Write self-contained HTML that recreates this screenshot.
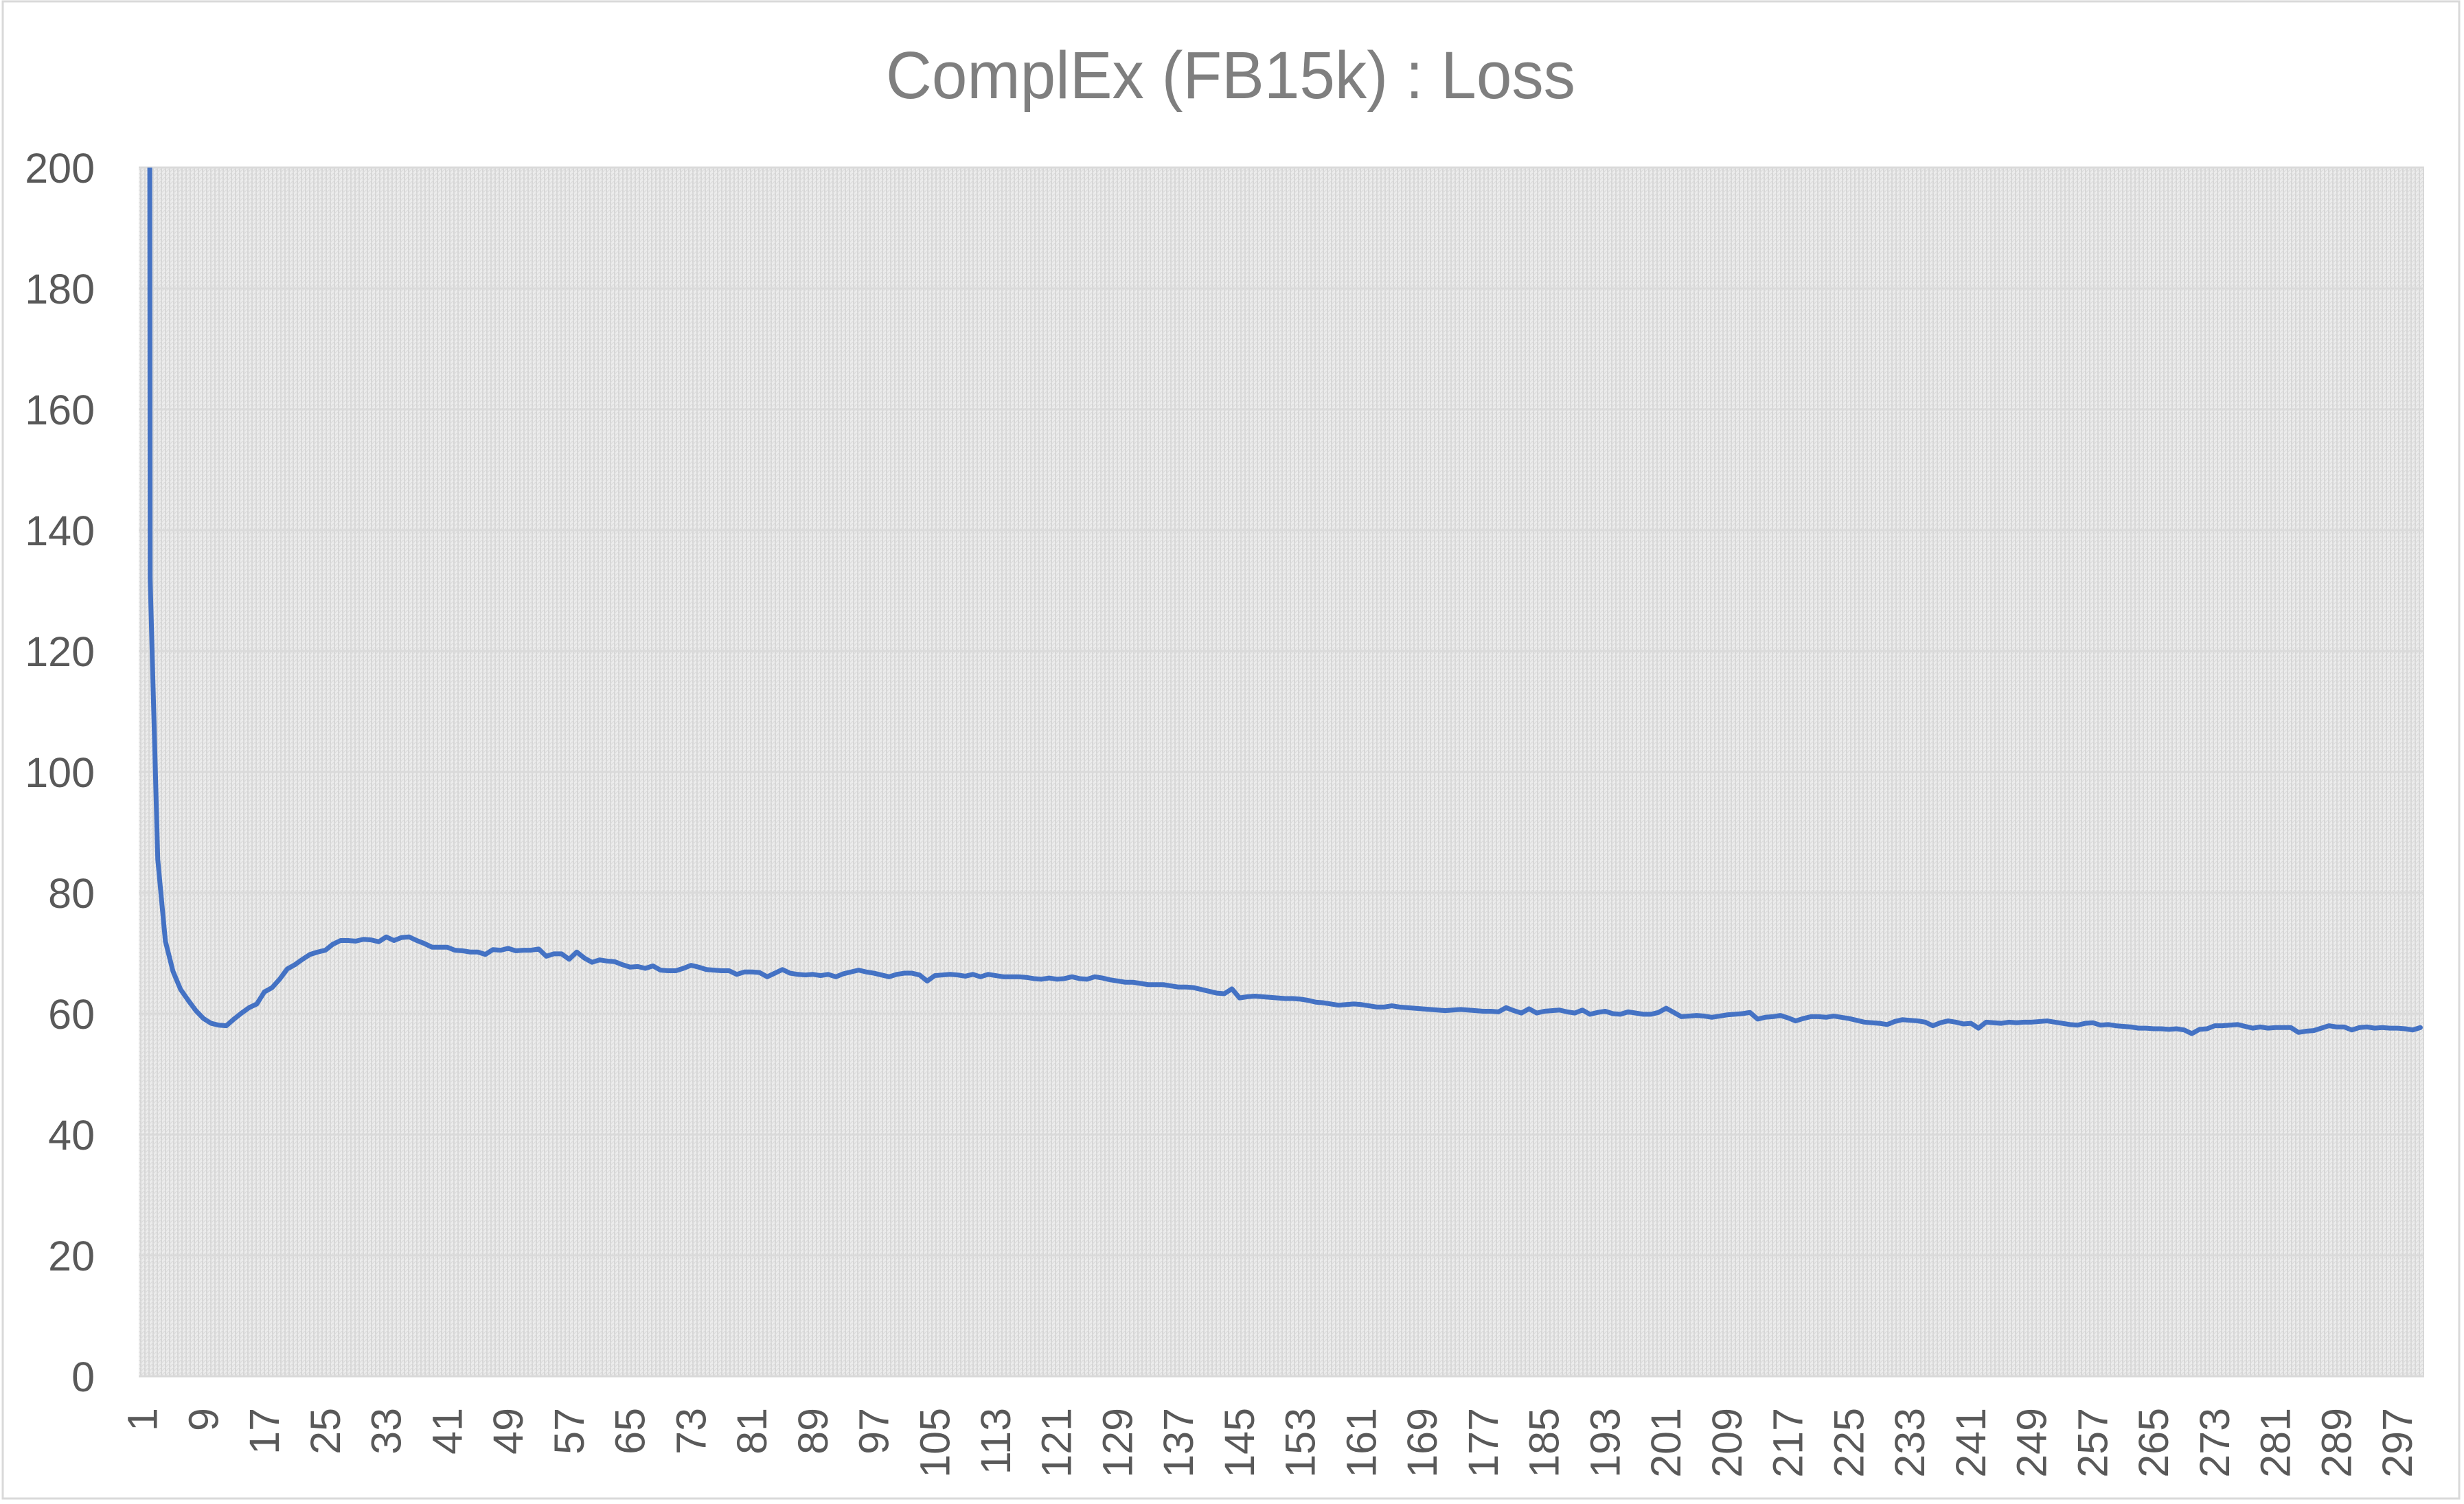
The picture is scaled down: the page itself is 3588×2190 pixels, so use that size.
<!DOCTYPE html>
<html>
<head>
<meta charset="utf-8">
<style>
  html, body { margin: 0; padding: 0; background: #ffffff; }
  svg { display: block; }
  text { font-family: "Liberation Sans", sans-serif; }
</style>
</head>
<body>
<svg id="chart" xmlns="http://www.w3.org/2000/svg" width="3588" height="2190" viewBox="0 0 3588 2190">
  <defs>
    <pattern id="hatch" width="6" height="6" patternUnits="userSpaceOnUse">
      <rect width="6" height="6" fill="#ececec"/>
      <rect x="0" y="0" width="2" height="6" fill="#d6d6d6"/>
      <path d="M0,6 L6,0" stroke="#dcdcdc" stroke-width="1.2"/>
    </pattern>
    <clipPath id="plotClip">
      <rect x="202" y="244" width="3328" height="1760"/>
    </clipPath>
  </defs>
  <rect x="4" y="2" width="3577" height="2180" fill="#ffffff" stroke="#d9d9d9" stroke-width="3"/>
  <text x="1792" y="143" text-anchor="middle" font-size="97" fill="#7f7f7f" textLength="1004" lengthAdjust="spacingAndGlyphs">ComplEx (FB15k) : Loss</text>
  <rect x="202" y="244" width="3328" height="1760" fill="url(#hatch)"/>
  <g id="grid"></g>
  <g id="yaxis"></g>
  <g id="xaxis"></g>
  <g id="series" clip-path="url(#plotClip)"></g>
</svg>
<script>
const yTicks = [0, 20, 40, 60, 80, 100, 120, 140, 160, 180, 200];
const xTickLabels = [1,9,17,25,33,41,49,57,65,73,81,89,97,105,113,121,129,137,145,153,161,169,177,185,193,201,209,217,225,233,241,249,257,265,273,281,289,297];
const lossValues = [
1500,132,85.5,72,67,64,62.2,60.5,59.2,58.4,
58.1,58.0,59.1,60.1,61.0,61.6,63.6,64.3,65.7,67.4,
68.1,69.0,69.8,70.2,70.5,71.5,72.1,72.1,72.0,72.3,
72.2,71.9,72.7,72.1,72.6,72.7,72.1,71.6,71.0,71.0,
71.0,70.5,70.4,70.2,70.2,69.8,70.6,70.5,70.8,70.4,
70.5,70.5,70.7,69.5,69.9,69.9,69.0,70.2,69.2,68.5,
68.9,68.7,68.6,68.1,67.7,67.8,67.5,67.9,67.2,67.1,
67.1,67.5,68.0,67.7,67.3,67.2,67.1,67.1,66.5,66.9,
66.9,66.8,66.1,66.7,67.3,66.7,66.5,66.4,66.5,66.3,
66.5,66.1,66.6,66.9,67.2,66.9,66.7,66.4,66.1,66.5,
66.7,66.7,66.4,65.4,66.3,66.4,66.5,66.4,66.2,66.5,
66.1,66.5,66.3,66.1,66.1,66.1,66.0,65.8,65.7,65.9,
65.7,65.8,66.1,65.8,65.7,66.1,65.9,65.6,65.4,65.2,
65.2,65.0,64.8,64.8,64.8,64.6,64.4,64.4,64.3,64.0,
63.7,63.4,63.3,64.1,62.6,62.8,62.9,62.8,62.7,62.6,
62.5,62.5,62.4,62.2,61.9,61.8,61.6,61.4,61.5,61.6,
61.5,61.3,61.1,61.1,61.3,61.1,61.0,60.9,60.8,60.7,
60.6,60.5,60.6,60.7,60.6,60.5,60.4,60.4,60.3,61.0,
60.5,60.1,60.8,60.1,60.4,60.5,60.6,60.3,60.1,60.6,
59.9,60.2,60.4,60.0,59.9,60.3,60.1,59.9,59.9,60.2,
60.9,60.2,59.5,59.6,59.7,59.6,59.4,59.6,59.8,59.9,
60.0,60.2,59.1,59.4,59.5,59.7,59.3,58.8,59.2,59.5,
59.5,59.4,59.6,59.4,59.2,58.9,58.6,58.5,58.4,58.2,
58.7,59.0,58.9,58.8,58.6,58.0,58.5,58.8,58.6,58.3,
58.4,57.6,58.6,58.5,58.4,58.6,58.5,58.6,58.6,58.7,
58.8,58.6,58.4,58.2,58.1,58.4,58.5,58.1,58.2,58.0,
57.9,57.8,57.6,57.6,57.5,57.5,57.4,57.5,57.3,56.7,
57.4,57.5,58.0,58.0,58.1,58.2,57.9,57.6,57.8,57.6,
57.7,57.7,57.7,56.9,57.1,57.2,57.6,58.0,57.8,57.8,
57.3,57.7,57.8,57.6,57.7,57.6,57.6,57.5,57.3,57.7
];

const NS = "http://www.w3.org/2000/svg";
const plotLeft = 202, plotRight = 3530, plotTop = 244, plotBottom = 2004;
const yMin = 0, yMax = 200;
const nCats = lossValues.length;
const step = (plotRight - plotLeft) / nCats;
function xPos(i) { return plotLeft + (i - 0.5) * step; }
function yPos(v) { return plotBottom - (v - yMin) / (yMax - yMin) * (plotBottom - plotTop); }

const grid = document.getElementById('grid');
const yaxis = document.getElementById('yaxis');
yTicks.forEach(function (t) {
  const y = yPos(t);
  if (t !== 0) {
    const ln = document.createElementNS(NS, 'line');
    ln.setAttribute('x1', plotLeft); ln.setAttribute('x2', plotRight);
    ln.setAttribute('y1', y); ln.setAttribute('y2', y);
    ln.setAttribute('stroke', '#dadada'); ln.setAttribute('stroke-width', '3');
    
    
    grid.appendChild(ln);
  }
  const tx = document.createElementNS(NS, 'text');
  tx.setAttribute('x', 138); tx.setAttribute('y', y + 22);
  tx.setAttribute('text-anchor', 'end');
  tx.setAttribute('font-size', '61');
  tx.setAttribute('fill', '#595959');
  tx.textContent = t;
  
  
  yaxis.appendChild(tx);
});
const base = document.createElementNS(NS, 'line');
base.setAttribute('x1', plotLeft); base.setAttribute('x2', plotRight);
base.setAttribute('y1', plotBottom); base.setAttribute('y2', plotBottom);
base.setAttribute('stroke', '#d9d9d9'); base.setAttribute('stroke-width', '3');


grid.appendChild(base);

const xaxis = document.getElementById('xaxis');
xTickLabels.forEach(function (c) {
  const x = xPos(c);
  const tx = document.createElementNS(NS, 'text');
  tx.setAttribute('transform', 'translate(' + (x + 21) + ',2050) rotate(-90)');
  tx.setAttribute('text-anchor', 'end');
  tx.setAttribute('font-size', '61');
  tx.setAttribute('fill', '#595959');
  tx.textContent = c;
  
  
  xaxis.appendChild(tx);
});

const series = document.getElementById('series');
let d = '';
lossValues.forEach(function (v, k) {
  d += (k === 0 ? 'M' : 'L') + xPos(k + 1).toFixed(2) + ',' + yPos(v).toFixed(2) + ' ';
});
const path = document.createElementNS(NS, 'path');
path.setAttribute('d', d);
path.setAttribute('fill', 'none');
path.setAttribute('stroke', '#4472c4');
path.setAttribute('stroke-width', '7');
path.setAttribute('stroke-linejoin', 'round');
path.setAttribute('stroke-linecap', 'round');


series.appendChild(path);
</script>
</body>
</html>
